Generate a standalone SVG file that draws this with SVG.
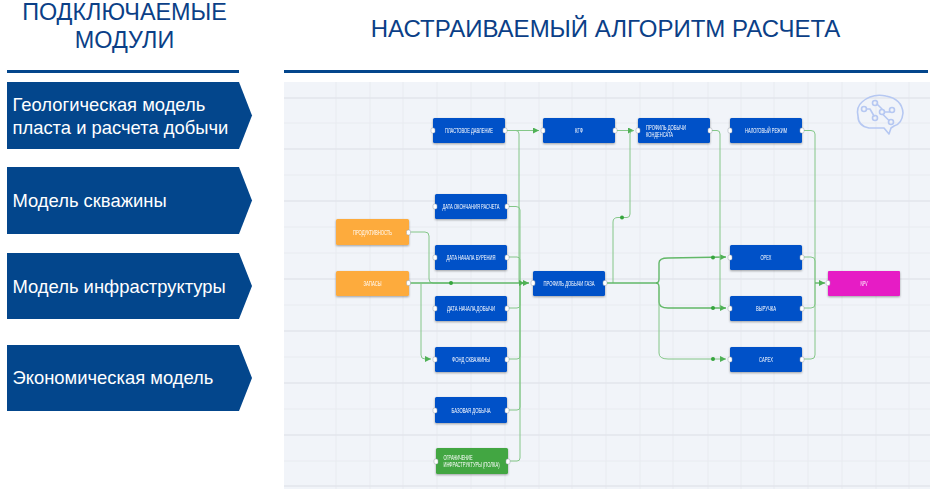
<svg xmlns="http://www.w3.org/2000/svg" width="935" height="499" viewBox="0 0 935 499">
<style>
.hdr{font:23.400px "Liberation Sans",Arial,sans-serif;fill:#0b3f87}
.chev{fill:#03468c}
.ct{font:18.400px "Liberation Sans",Arial,sans-serif;fill:#fff}
.g1{stroke:#e8ebf0;stroke-width:1;fill:none}
.g2{stroke:#e2e5eb;stroke-width:1.300;fill:none}
.n{fill:#0451c8;filter:url(#sh)}
.o{fill:#fdab3d;filter:url(#sh)}
.gr{fill:#43a643;filter:url(#sh)}
.m{fill:#e61bc5;filter:url(#sh)}
.t{font:6.500px "Liberation Sans",Arial,sans-serif;fill:#fff;text-anchor:middle}
.tl{font:6.500px "Liberation Sans",Arial,sans-serif;fill:#fff}
.p{fill:#fff;stroke:#9aa3ad;stroke-width:.5}
.c{fill:none;stroke:#84c788;stroke-width:1}
.c2{fill:none;stroke:#62b868;stroke-width:1.400}
.d{fill:#34a53c}
.a{fill:#4fb155}
.br{fill:none;stroke:#b6c8f2;stroke-width:1.600;stroke-linecap:round;stroke-linejoin:round}
</style>
<defs>
<filter id="sh" x="-10%" y="-20%" width="120%" height="150%"><feDropShadow dx="0" dy="1" stdDeviation="1" flood-color="#000" flood-opacity=".35"/></filter>
<filter id="soft"><feGaussianBlur stdDeviation=".35"/></filter>
<marker id="ah" markerWidth="7" markerHeight="6" refX="6" refY="3" orient="auto" markerUnits="userSpaceOnUse"><path d="M0 0L6 3L0 6z" fill="#4fb155"/></marker>
</defs>
<rect width="935" height="499" fill="#fff"/>
<g id="headers">
<text class="hdr" x="124.500" y="20" text-anchor="middle">ПОДКЛЮЧАЕМЫЕ</text>
<text class="hdr" x="124.500" y="48" text-anchor="middle">МОДУЛИ</text>
<text class="hdr" x="605.500" y="37" text-anchor="middle" style="font-size:24px">НАСТРАИВАЕМЫЙ АЛГОРИТМ РАСЧЕТА</text>
<rect x="7" y="70" width="232" height="3" fill="#03468c"/>
<rect x="284" y="70" width="644" height="3" fill="#03468c"/>
</g>
<g id="module-geology"><path class="chev" d="M7 82H239L252 115.500L239 149H7z"/><text class="ct" x="12.500" y="111">Геологическая модель</text><text class="ct" x="12.500" y="134">пласта и расчета добычи</text></g>
<g id="module-well"><path class="chev" d="M7 167H239L252 200.500L239 234H7z"/><text class="ct" x="12.500" y="207">Модель скважины</text></g>
<g id="module-infra"><path class="chev" d="M7 253H239L252 286L239 319H7z"/><text class="ct" x="12.500" y="293">Модель инфраструктуры</text></g>
<g id="module-econ"><path class="chev" d="M7 345H239L252 378L239 411H7z"/><text class="ct" x="12.500" y="384">Экономическая модель</text></g>
<g id="canvas" filter="url(#soft)">
<rect x="284" y="82" width="646" height="407" fill="#f1f4f9"/>
<path class="g1" d="M336 82V489M370 82V489M403 82V489M437 82V489M471 82V489M505 82V489M539 82V489M572 82V489M606 82V489M640 82V489M673 82V489M708 82V489M741 82V489M774 82V489M808 82V489M842 82V489M876 82V489M909 82V489"/>
<path class="g1" d="M284 123H930M284 175H930M284 227H930M284 253H930M284 305H930M284 357H930M284 409H930M284 461H930"/>
<path class="g2" d="M284 98H930M284 149H930M284 201H930M284 279H930M284 331H930M284 383H930M284 435H930M284 486H930"/>
</g>
<g id="connectors" filter="url(#soft)">
<path class="c" d="M505 130.500H539" marker-end="url(#ah)"/>
<path class="c" d="M505 130.500H516Q519 130.500 519 134V283"/>
<path class="c" d="M507 206.500H516Q520 206.500 520 210V283"/>
<path class="c" d="M507 257H517Q520 257 520 260V283"/>
<path class="c" d="M507 308H517Q520 308 520 305V283"/>
<path class="c" d="M507 359H517Q520 359 520 356V283"/>
<path class="c" d="M507 410H517Q520 410 520 407V283"/>
<path class="c" d="M508 461H517Q520 461 520 458V283"/>
<path class="c" d="M409 232H425Q429 232 429 236V279Q429 283 433 283H450"/>
<path class="c2" d="M409 283H529" marker-end="url(#ah)"/>
<path class="c" d="M421 283V355Q421 359 425 359H431" marker-end="url(#ah)"/>
<path class="a" d="M519 280L524 283L519 286z"/>
<circle class="d" cx="451" cy="283" r="2"/>
<path class="c" d="M615 130.500H634" marker-end="url(#ah)"/>
<path class="c" d="M613 283V222Q613 217.500 618 217.500H627Q630 217.500 630 214V134Q630 130.500 634 130.500"/>
<circle class="d" cx="622" cy="217.500" r="2"/>
<path class="c2" d="M605 283H656"/>
<path class="c2" d="M656 283Q659 283 659 279V263Q659 258 668 258L726 257" marker-end="url(#ah)"/>
<path class="c2" d="M656 283Q659 283 659 287V302Q659 308 668 308H726" marker-end="url(#ah)"/>
<path class="c" d="M659 287V353Q659 359 668 359H726" marker-end="url(#ah)"/>
<circle class="d" cx="713" cy="257.500" r="2"/>
<circle class="d" cx="713" cy="308" r="2"/>
<circle class="d" cx="713" cy="359" r="2"/>
<path class="c" d="M710 130.500H717Q720 130.500 720 134V308"/>
<path class="c" d="M802 130.500H811Q815 130.500 815 134V283"/>
<path class="c" d="M802 257H811Q815 257 815 261V283"/>
<path class="c" d="M802 308H811Q815 308 815 304V283"/>
<path class="c" d="M802 359H811Q815 359 815 355V283"/>
<path class="c2" d="M815 283H825" marker-end="url(#ah)"/>
</g>
<g id="brain">
<path class="br" d="M889 134L884 128H869Q858 126 858 116Q856 107 862 102Q872 93 886 96Q902 99 903 113Q902 124 894 126L891 128z"/>
<path class="br" d="M866.500 109H870L874 116M877 104L882 109M884.500 112H889.500M883 114.500L889 120.500"/>
<circle class="br" cx="864" cy="109" r="2.500"/><circle class="br" cx="875" cy="103" r="2.500"/><circle class="br" cx="882" cy="112" r="2.500"/><circle class="br" cx="892" cy="110" r="2.500"/><circle class="br" cx="875" cy="118" r="2.500"/><circle class="br" cx="891" cy="122" r="2.500"/>
</g>
<g filter="url(#soft)">
<g id="n-pressure"><rect class="n" x="433" y="118" width="72" height="25" rx="1.500"/><text class="t" x="469" y="132.800" textLength="48" lengthAdjust="spacingAndGlyphs">ПЛАСТОВОЕ ДАВЛЕНИЕ</text><rect class="p" x="431" y="128" width="4" height="5" rx="1.500"/><rect class="p" x="503" y="128" width="4" height="5" rx="1.500"/></g>
<g id="n-kgf"><rect class="n" x="543" y="118" width="72" height="25" rx="1.500"/><text class="t" x="579" y="132.800" textLength="8" lengthAdjust="spacingAndGlyphs">КГФ</text><rect class="p" x="541" y="128" width="4" height="5" rx="1.500"/><rect class="p" x="613" y="128" width="4" height="5" rx="1.500"/></g>
<g id="n-condensate"><rect class="n" x="638" y="118" width="72" height="25" rx="1.500"/><text class="tl" x="646" y="129.500" textLength="40" lengthAdjust="spacingAndGlyphs">ПРОФИЛЬ ДОБЫЧИ</text><text class="tl" x="646" y="136.500" textLength="27" lengthAdjust="spacingAndGlyphs">КОНДЕНСАТА</text><rect class="p" x="636" y="128" width="4" height="5" rx="1.500"/><rect class="p" x="708" y="128" width="4" height="5" rx="1.500"/></g>
<g id="n-tax"><rect class="n" x="730" y="118" width="72" height="25" rx="1.500"/><text class="t" x="766" y="132.800" textLength="42" lengthAdjust="spacingAndGlyphs">НАЛОГОВЫЙ РЕЖИМ</text><rect class="p" x="728" y="128" width="4" height="5" rx="1.500"/><rect class="p" x="800" y="128" width="4" height="5" rx="1.500"/></g>
<g id="n-end"><rect class="n" x="435" y="194" width="72" height="25" rx="1.500"/><text class="t" x="471" y="209" textLength="57" lengthAdjust="spacingAndGlyphs">ДАТА ОКОНЧАНИЯ РАСЧЕТА</text><rect class="p" x="433" y="204" width="4" height="5" rx="1.500"/><rect class="p" x="505" y="204" width="4" height="5" rx="1.500"/></g>
<g id="n-drill"><rect class="n" x="435" y="245" width="72" height="25" rx="1.500"/><text class="t" x="471" y="259.800" textLength="49" lengthAdjust="spacingAndGlyphs">ДАТА НАЧАЛА БУРЕНИЯ</text><rect class="p" x="433" y="255" width="4" height="5" rx="1.500"/><rect class="p" x="505" y="255" width="4" height="5" rx="1.500"/></g>
<g id="n-start"><rect class="n" x="435" y="296" width="72" height="25" rx="1.500"/><text class="t" x="471" y="310.800" textLength="48" lengthAdjust="spacingAndGlyphs">ДАТА НАЧАЛА ДОБЫЧИ</text><rect class="p" x="433" y="306" width="4" height="5" rx="1.500"/><rect class="p" x="505" y="306" width="4" height="5" rx="1.500"/></g>
<g id="n-fund"><rect class="n" x="435" y="347" width="72" height="25" rx="1.500"/><text class="t" x="471" y="361.800" textLength="38" lengthAdjust="spacingAndGlyphs">ФОНД СКВАЖИНЫ</text><rect class="p" x="433" y="357" width="4" height="5" rx="1.500"/><rect class="p" x="505" y="357" width="4" height="5" rx="1.500"/></g>
<g id="n-base"><rect class="n" x="435" y="397" width="72" height="26" rx="1.500"/><text class="t" x="471" y="412.500" textLength="39" lengthAdjust="spacingAndGlyphs">БАЗОВАЯ ДОБЫЧА</text><rect class="p" x="433" y="408" width="4" height="5" rx="1.500"/><rect class="p" x="505" y="408" width="4" height="5" rx="1.500"/></g>
<g id="n-limit"><rect class="gr" x="436" y="448" width="72" height="26" rx="1.500"/><text class="tl" x="443.500" y="459.500" textLength="29" lengthAdjust="spacingAndGlyphs">ОГРАНИЧЕНИЕ</text><text class="tl" x="443.500" y="467" textLength="56" lengthAdjust="spacingAndGlyphs">ИНФРАСТРУКТУРЫ (ПОЛКА)</text><rect class="p" x="434" y="459" width="4" height="5" rx="1.500"/><rect class="p" x="506" y="459" width="4" height="5" rx="1.500"/></g>
<g id="n-prod"><rect class="o" x="336" y="219" width="73" height="26" rx="1.500"/><text class="t" x="372.500" y="234.500" textLength="39" lengthAdjust="spacingAndGlyphs">ПРОДУКТИВНОСТЬ</text><rect class="p" x="406.500" y="230" width="4" height="5" rx="1.500"/></g>
<g id="n-reserves"><rect class="o" x="336" y="271" width="73" height="25" rx="1.500"/><text class="t" x="372.500" y="285.800" textLength="18" lengthAdjust="spacingAndGlyphs">ЗАПАСЫ</text><rect class="p" x="406.500" y="280.500" width="4" height="5" rx="1.500"/></g>
<g id="n-gas"><rect class="n" x="533" y="271" width="72" height="25" rx="1.500"/><text class="t" x="569" y="285.800" textLength="51" lengthAdjust="spacingAndGlyphs">ПРОФИЛЬ ДОБЫЧИ ГАЗА</text><rect class="p" x="531" y="280.500" width="4" height="5" rx="1.500"/><rect class="p" x="603" y="280.500" width="4" height="5" rx="1.500"/></g>
<g id="n-opex"><rect class="n" x="730" y="245" width="72" height="25" rx="1.500"/><text class="t" x="766" y="259.800" textLength="11" lengthAdjust="spacingAndGlyphs">OPEX</text><rect class="p" x="728" y="255" width="4" height="5" rx="1.500"/><rect class="p" x="800" y="255" width="4" height="5" rx="1.500"/></g>
<g id="n-revenue"><rect class="n" x="730" y="296" width="72" height="25" rx="1.500"/><text class="t" x="766" y="310.800" textLength="20" lengthAdjust="spacingAndGlyphs">ВЫРУЧКА</text><rect class="p" x="728" y="306" width="4" height="5" rx="1.500"/><rect class="p" x="800" y="306" width="4" height="5" rx="1.500"/></g>
<g id="n-capex"><rect class="n" x="730" y="347" width="72" height="25" rx="1.500"/><text class="t" x="766" y="361.800" textLength="14" lengthAdjust="spacingAndGlyphs">CAPEX</text><rect class="p" x="728" y="357" width="4" height="5" rx="1.500"/><rect class="p" x="800" y="357" width="4" height="5" rx="1.500"/></g>
<g id="n-npv"><rect class="m" x="828" y="271" width="72" height="25" rx="1"/><text class="t" x="864" y="285.800" textLength="7" lengthAdjust="spacingAndGlyphs">NPV</text><rect class="p" x="826" y="280.500" width="4" height="5" rx="1.500"/></g>
</g>
</svg>
